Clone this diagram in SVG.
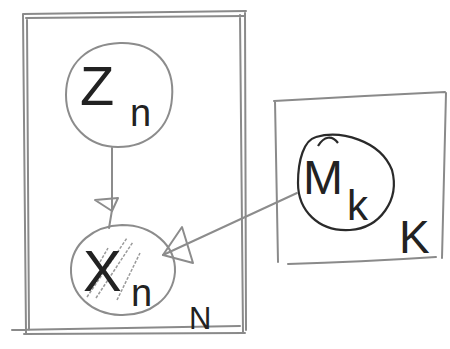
<svg xmlns="http://www.w3.org/2000/svg" width="450" height="349" viewBox="0 0 450 349">
<style>
.plate{fill:none;stroke:#8a8a8a;stroke-width:2;stroke-linecap:round;stroke-linejoin:round}
.node{fill:none;stroke:#8c8c8c;stroke-width:2}
.dark{fill:none;stroke:#2a2a2a;stroke-width:2.2}
.edge{fill:none;stroke:#8c8c8c;stroke-width:2;stroke-linecap:round;stroke-linejoin:round}
.hatch{stroke:#9a9a9a;stroke-width:1.5;stroke-dasharray:3 1.5}
.lbl{font-family:"Liberation Sans","DejaVu Sans",sans-serif;fill:#222}
</style>
<rect width="450" height="349" fill="#fff"/>
<g id="plate-N">
<path class="plate" d="M23,14 L246,11 M26,18 L244,16 M23,14 L26,333 M27,20 L29,330 M240,15 L243,333 M245,12 L246,330 M12,330 L240,326 M24,334 L245,333"/>
<text class="lbl" x="189" y="329" font-size="31" textLength="28">N</text>
</g>
<g id="plate-K">
<path class="plate" d="M274,101 Q360,96 445,92 M275,101 L278,262 M446,93 L442,258 M288,264 Q360,262 436,257"/>
<text class="lbl" x="399" y="253" font-size="46">K</text>
</g>
<g id="node-Z">
<path class="node" d="M120,43 C155,42 175,65 172,98 C170,128 148,147 118,147 C88,147 66,125 66,95 C66,63 88,44 120,43 Z"/>
<text class="lbl" x="80" y="105" font-size="56" font-weight="300">Z</text>
<text class="lbl" x="130" y="126" font-size="38">n</text>
</g>
<g id="node-X">
<path class="node" d="M122,225 C152,225 176,245 175,272 C173,298 150,316 120,315 C92,314 70,295 71,268 C72,244 93,226 122,225 Z"/>
<path class="hatch" d="M87,297 L127,238 M96,298 L133,242 M117,300 L140,253 M100,262 L108,248"/>
<text class="lbl" x="83" y="291" font-size="58">X</text>
<text class="lbl" x="131" y="306" font-size="38">n</text>
</g>
<g id="node-M">
<path class="dark" d="M316,137 C340,130 380,140 392,170 C400,200 380,228 350,230 C318,232 298,210 298,183 C298,160 304,140 316,137 Z M318,146 C324,136 332,135 338,143"/>
<text class="lbl" x="303" y="194" font-size="48">M</text>
<text class="lbl" x="347" y="220" font-size="42">k</text>
</g>
<g id="connectors">
<path class="edge" d="M112,148 L112,210 L109,228"/>
<path class="edge" d="M95,200 L118,198 L112,211 Z"/>
<path class="edge" d="M297,193 L163,255"/>
<path class="edge" d="M163,255 L182,227 L193,263 Z"/>
</g>
</svg>
